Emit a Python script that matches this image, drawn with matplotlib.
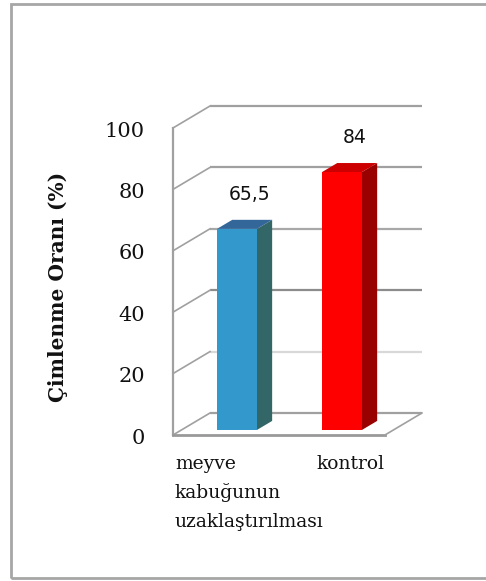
import matplotlib
matplotlib.use("Agg")
import matplotlib.pyplot as plt
from matplotlib.patches import Rectangle

# Data
categories = ["meyve\nkabuğunun\nuzaklaştırılması", "kontrol"]
values = [65.5, 84]
value_labels = ["65,5", "84"]
yticks = [0, 20, 40, 60, 80, 100]
ylabel = "Çimlenme Oranı (%)"

# Colours for front / side / top faces of each bar
front_cols = ["#3399cc", "#ff0000"]
side_cols = ["#336666", "#990000"]
top_cols = ["#336699", "#cc0000"]
grid_cols = ["#a0a0a0", "#d8d8d8", "#8c8c8c", "#a8a8a8", "#a0a0a0", "#a0a0a0"]

W, H, DPI = 486, 581, 100
fig = plt.figure(figsize=(W / DPI, H / DPI), dpi=DPI)
ax = fig.add_axes([0, 0, 1, 1])
ax.set_xlim(-2.176, 2.452)
ax.set_ylim(-47.56, 141.69)
ax.axis("off")

# Oblique projection of the depth axis (x in category units, y in value units)
DX, DY = 0.3524, 7.166


def P(x, v, d):
    return x + d * DX, v + d * DY


x_left, x_right = -0.5286, 1.490
ymax = 100

# Outer frame (open on the right)
frame = Rectangle((11 / W, 3 / H), 1.2, 1 - 7 / H, transform=fig.transFigure,
                  fill=False, edgecolor="#a6a6a6", lw=2.0, zorder=0)
fig.patches.append(frame)

# Back wall gridlines and side-wall diagonals
for t, c in zip(yticks, grid_cols):
    xb0, vb0 = P(x_left, t, 1)
    xb1, vb1 = P(x_right, t, 1)
    ax.plot([xb0, xb1], [vb0, vb1], color=c, lw=1.6, zorder=1, solid_capstyle="butt")
    ax.plot([x_left, xb0], [t, vb0], color="#a0a0a0", lw=1.2, zorder=1)

# Side wall front edge
ax.plot([x_left, x_left], [0, ymax], color="#a0a0a0", lw=1.6, zorder=1)

# Floor outline
fx0, fv0 = P(x_right, 0, 0)
fx1, fv1 = P(x_right, 0, 1)
ax.plot([x_left, x_right], [0, 0], color="#999999", lw=2.0, zorder=1)
ax.plot([fx0, fx1], [fv0, fv1], color="#a0a0a0", lw=1.2, zorder=1)

# 3D bars
hw = 0.19
d0, d1 = 0.23, 0.64
for i, v in enumerate(values):
    xl, xr = i - hw, i + hw
    front = [P(xl, 0, d0), P(xr, 0, d0), P(xr, v, d0), P(xl, v, d0)]
    side = [P(xr, 0, d0), P(xr, 0, d1), P(xr, v, d1), P(xr, v, d0)]
    top = [P(xl, v, d0), P(xr, v, d0), P(xr, v, d1), P(xl, v, d1)]
    for poly, col in ((side, side_cols[i]), (top, top_cols[i]), (front, front_cols[i])):
        xs, ys = zip(*poly)
        ax.fill(xs, ys, color=col, lw=0, zorder=3)
    lx, lv = P(i + 0.205, v + 11.3, d0)
    ax.text(lx - d0 * DX, lv, value_labels[i], ha="center", va="center",
            fontsize=13.5, family="DejaVu Sans", color="#111111", zorder=4)

# Y tick labels
for t in yticks:
    ax.text(-0.795, t - 1.0, str(t), ha="right", va="center",
            fontsize=15, family="DejaVu Serif", color="#111111")

# Y axis title
ax.text(-1.624, 48.2, ylabel, rotation=90, ha="center", va="center",
        fontsize=14.5, family="DejaVu Serif", fontweight="bold", color="#111111")

# Category labels, one text per line so the wrapped label keeps its own rows
cat_x = [-0.51, 0.84]
line_step = 9.5  # value units between baselines
for x, lab in zip(cat_x, categories):
    for k, line in enumerate(lab.split("\n")):
        ax.text(x, -11.0 - k * line_step, line, ha="left", va="baseline",
                fontsize=13.5, family="DejaVu Serif", color="#111111")

fig.savefig("out.png", dpi=DPI, facecolor="white")
